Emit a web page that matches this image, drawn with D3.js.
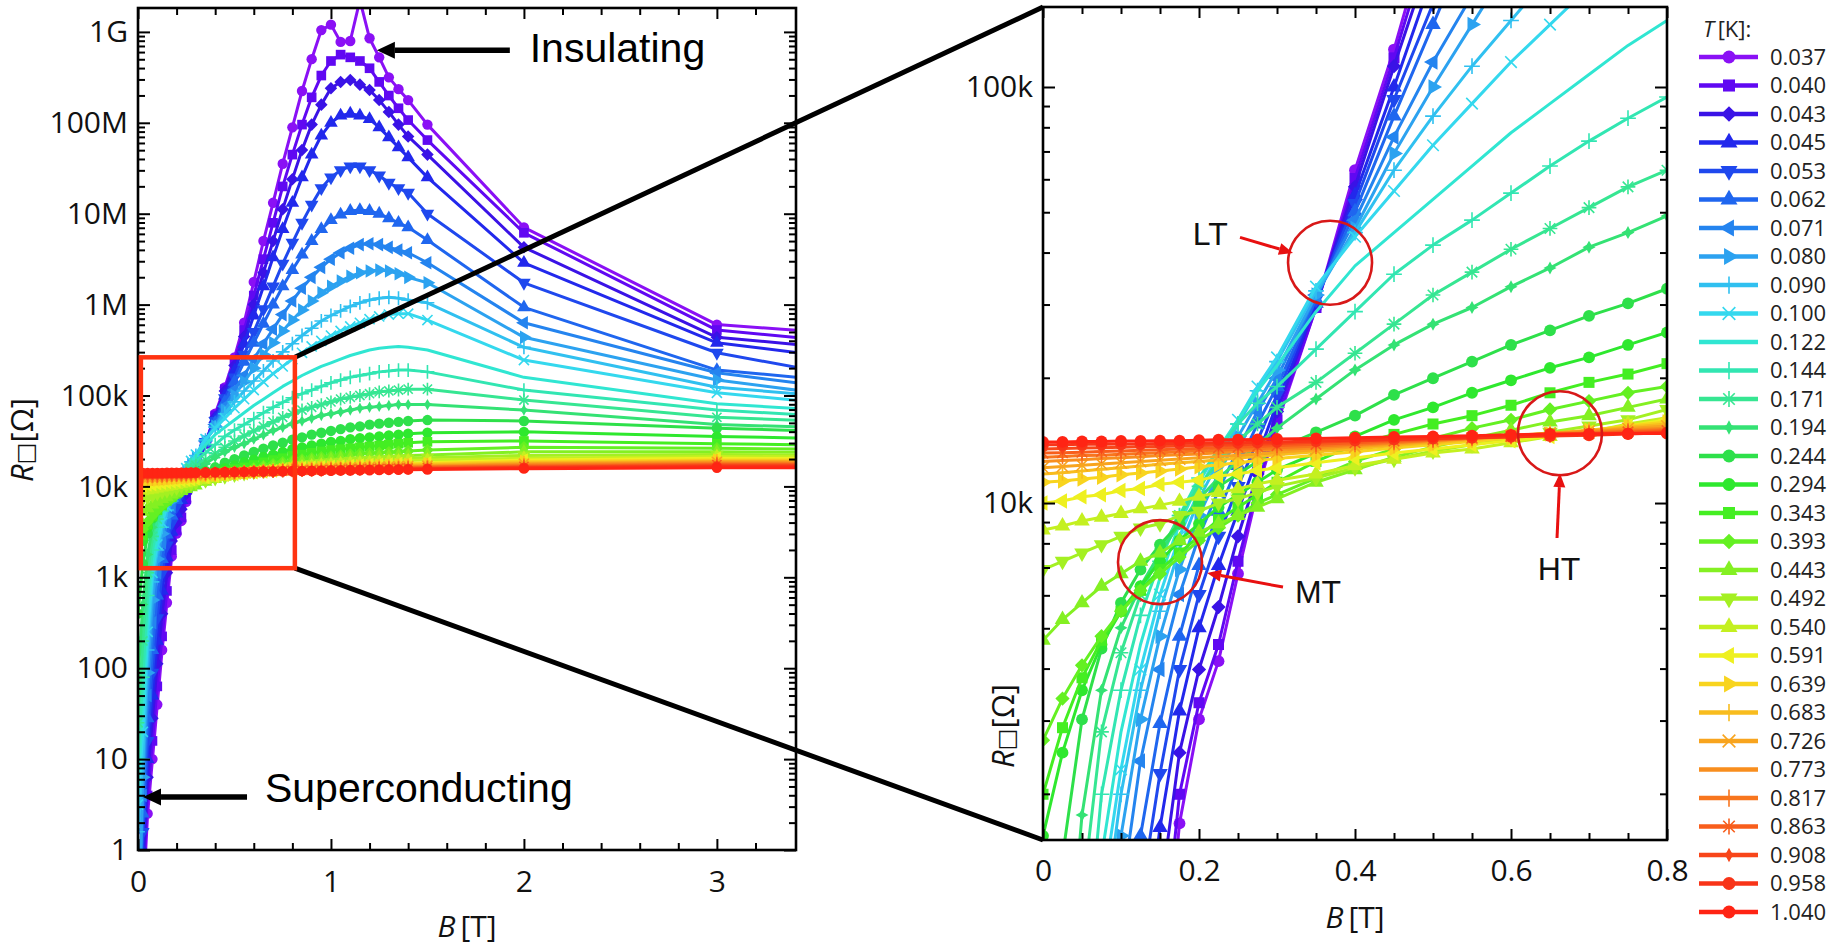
<!DOCTYPE html>
<html>
<head>
<meta charset="utf-8">
<title>Sheet resistance versus magnetic field</title>
<script src="https://cdn.jsdelivr.net/npm/d3@7"></script>
<style>
  html, body { margin: 0; padding: 0; background: #ffffff; }
  svg { display: block; }
</style>
</head>
<body>
<script>
// Magnetic field values at which every isotherm is sampled [T]
const fieldB = [0, 0.025, 0.05, 0.075, 0.1, 0.125, 0.15, 0.175, 0.2, 0.225,
  0.25, 0.275, 0.3, 0.35, 0.4, 0.45, 0.5, 0.55, 0.6, 0.65,
  0.7, 0.75, 0.8, 0.85, 0.9, 0.95, 1.0, 1.05, 1.1, 1.15,
  1.2, 1.25, 1.3, 1.35, 1.4, 1.5, 2, 3, 4];

// Temperatures of the isotherms [K]
const temperaturesK = ["0.037", "0.040", "0.043", "0.045", "0.053", "0.062", "0.071", "0.080",
  "0.090", "0.100", "0.122", "0.144", "0.171", "0.194", "0.244", "0.294", "0.343", "0.393",
  "0.443", "0.492", "0.540", "0.591", "0.639", "0.683", "0.726", "0.773", "0.817", "0.863",
  "0.908", "0.958", "1.040"];

// log10(R_sq / Ohm) for each isotherm, one value per entry of fieldB
const logR_0037 = [-1, -0.6, 0.4, 1.0, 1.6, 2.2, 2.72, 3.23, 3.48, 3.62, 3.83, 4.03, 4.19, 4.47, 4.8, 5.09, 5.42, 5.8, 6.25, 6.7, 7.12, 7.55, 7.95, 8.35, 8.7, 9.02, 9.08, 8.89, 8.9, 9.35, 8.93, 8.72, 8.5, 8.37, 8.25, 7.98, 6.85, 5.78, 5.63];
const logR_0040 = [-1, -0.4, 0.6, 1.2, 1.8, 2.35, 2.85, 3.3, 3.52, 3.66, 3.86, 4.04, 4.2, 4.47, 4.78, 5.07, 5.38, 5.72, 6.1, 6.5, 6.9, 7.3, 7.65, 7.98, 8.28, 8.52, 8.68, 8.75, 8.72, 8.68, 8.6, 8.45, 8.3, 8.16, 8.03, 7.81, 6.79, 5.72, 5.52];
const logR_0043 = [-1, -0.2, 0.8, 1.45, 2.05, 2.6, 3.05, 3.4, 3.6, 3.75, 3.92, 4.07, 4.22, 4.48, 4.76, 5.05, 5.33, 5.65, 6.0, 6.35, 6.7, 7.05, 7.38, 7.7, 7.98, 8.2, 8.38, 8.45, 8.47, 8.42, 8.36, 8.25, 8.12, 7.98, 7.85, 7.65, 6.63, 5.64, 5.45];
const logR_0045 = [-1, 0.0, 1.0, 1.7, 2.3, 2.85, 3.22, 3.5, 3.7, 3.85, 3.98, 4.11, 4.24, 4.48, 4.74, 5.0, 5.27, 5.57, 5.88, 6.2, 6.52, 6.83, 7.12, 7.4, 7.65, 7.86, 8.0, 8.08, 8.1, 8.08, 8.04, 7.95, 7.84, 7.73, 7.62, 7.4, 6.46, 5.58, 5.32];
const logR_0053 = [-1, 0.2, 1.2, 1.95, 2.55, 3.05, 3.35, 3.6, 3.78, 3.92, 4.04, 4.15, 4.26, 4.49, 4.72, 4.97, 5.2, 5.45, 5.7, 5.95, 6.2, 6.45, 6.68, 6.9, 7.1, 7.28, 7.4, 7.48, 7.52, 7.52, 7.48, 7.42, 7.34, 7.28, 7.23, 7.0, 6.24, 5.47, 5.08];
const logR_0062 = [-1, 0.4, 1.45, 2.2, 2.8, 3.2, 3.47, 3.68, 3.85, 3.98, 4.09, 4.19, 4.28, 4.49, 4.7, 4.93, 5.15, 5.37, 5.58, 5.79, 6.0, 6.2, 6.38, 6.55, 6.7, 6.83, 6.93, 6.99, 7.03, 7.04, 7.03, 7.0, 6.95, 6.9, 6.85, 6.71, 5.97, 5.28, 5.09];
const logR_0071 = [-1, 0.6, 1.7, 2.5, 3.05, 3.38, 3.6, 3.78, 3.92, 4.03, 4.13, 4.22, 4.3, 4.5, 4.68, 4.88, 5.06, 5.22, 5.4, 5.57, 5.73, 5.89, 6.04, 6.18, 6.3, 6.41, 6.5, 6.57, 6.62, 6.66, 6.67, 6.66, 6.63, 6.6, 6.57, 6.46, 5.8, 5.25, 4.98];
const logR_0080 = [-1, 0.8, 1.95, 2.75, 3.2, 3.48, 3.68, 3.84, 3.97, 4.07, 4.16, 4.24, 4.32, 4.5, 4.66, 4.84, 5.0, 5.15, 5.3, 5.45, 5.58, 5.71, 5.83, 5.94, 6.04, 6.13, 6.2, 6.26, 6.31, 6.35, 6.37, 6.38, 6.37, 6.34, 6.3, 6.24, 5.64, 5.17, 4.9];
const logR_0090 = [0.2, 1.0, 2.2, 2.95, 3.3, 3.55, 3.74, 3.89, 4.01, 4.1, 4.19, 4.27, 4.34, 4.51, 4.65, 4.8, 4.93, 5.05, 5.16, 5.27, 5.38, 5.48, 5.57, 5.66, 5.74, 5.82, 5.88, 5.93, 5.98, 6.02, 6.05, 6.07, 6.08, 6.07, 6.05, 6.02, 5.53, 5.09, 4.92];
const logR_0100 = [0.5, 1.3, 2.4, 3.05, 3.36, 3.6, 3.78, 3.92, 4.03, 4.12, 4.2, 4.28, 4.35, 4.52, 4.64, 4.75, 4.86, 4.96, 5.06, 5.15, 5.24, 5.32, 5.4, 5.47, 5.54, 5.6, 5.66, 5.71, 5.76, 5.8, 5.84, 5.87, 5.89, 5.9, 5.9, 5.83, 5.39, 5.03, 4.83];
const logR_0122 = [0.7, 1.6, 2.6, 3.15, 3.45, 3.66, 3.82, 3.95, 4.05, 4.13, 4.2, 4.27, 4.33, 4.46, 4.57, 4.65, 4.73, 4.81, 4.89, 4.96, 5.03, 5.1, 5.16, 5.22, 5.27, 5.32, 5.36, 5.4, 5.44, 5.47, 5.5, 5.52, 5.53, 5.54, 5.53, 5.5, 5.2, 4.91, 4.78];
const logR_0144 = [1.0, 1.9, 2.8, 3.3, 3.55, 3.73, 3.86, 3.97, 4.06, 4.13, 4.19, 4.24, 4.28, 4.37, 4.46, 4.55, 4.62, 4.68, 4.745, 4.81, 4.87, 4.925, 4.976, 5.02, 5.06, 5.1, 5.14, 5.17, 5.2, 5.22, 5.24, 5.26, 5.27, 5.28, 5.28, 5.26, 5.06, 4.84, 4.72];
const logR_0171 = [1.4, 2.3, 3.05, 3.45, 3.64, 3.78, 3.88, 3.97, 4.04, 4.1, 4.15, 4.19, 4.23, 4.29, 4.36, 4.43, 4.5, 4.555, 4.61, 4.66, 4.71, 4.76, 4.8, 4.84, 4.87, 4.9, 4.93, 4.96, 4.98, 5.0, 5.02, 5.04, 5.05, 5.06, 5.07, 5.07, 4.95, 4.76, 4.68];
const logR_0194 = [1.9, 2.7, 3.25, 3.55, 3.7, 3.8, 3.88, 3.95, 4.01, 4.06, 4.1, 4.14, 4.18, 4.25, 4.32, 4.38, 4.43, 4.47, 4.52, 4.565, 4.615, 4.65, 4.69, 4.72, 4.75, 4.78, 4.8, 4.82, 4.84, 4.86, 4.87, 4.88, 4.89, 4.9, 4.9, 4.9, 4.84, 4.68, 4.62];
const logR_0244 = [2.6, 3.15, 3.48, 3.65, 3.76, 3.84, 3.9, 3.95, 4.0, 4.04, 4.07, 4.1, 4.13, 4.17, 4.21, 4.26, 4.3, 4.34, 4.38, 4.415, 4.45, 4.48, 4.515, 4.54, 4.57, 4.59, 4.61, 4.63, 4.65, 4.66, 4.68, 4.69, 4.7, 4.71, 4.72, 4.73, 4.72, 4.64, 4.58];
const logR_0294 = [3.2, 3.4, 3.55, 3.66, 3.74, 3.8, 3.86, 3.91, 3.95, 3.99, 4.02, 4.05, 4.08, 4.12, 4.16, 4.2, 4.23, 4.265, 4.295, 4.325, 4.35, 4.38, 4.41, 4.43, 4.45, 4.47, 4.49, 4.5, 4.52, 4.53, 4.54, 4.55, 4.56, 4.57, 4.58, 4.59, 4.6, 4.55, 4.51];
const logR_0343 = [3.3, 3.46, 3.58, 3.67, 3.74, 3.79, 3.84, 3.88, 3.92, 3.96, 3.99, 4.02, 4.05, 4.1, 4.14, 4.165, 4.19, 4.21, 4.235, 4.265, 4.29, 4.31, 4.335, 4.35, 4.37, 4.385, 4.4, 4.41, 4.42, 4.43, 4.44, 4.45, 4.46, 4.47, 4.48, 4.49, 4.5, 4.47, 4.44];
const logR_0393 = [3.43, 3.53, 3.61, 3.68, 3.74, 3.79, 3.83, 3.87, 3.91, 3.94, 3.97, 4.0, 4.02, 4.06, 4.1, 4.13, 4.155, 4.18, 4.2, 4.225, 4.245, 4.265, 4.28, 4.295, 4.31, 4.32, 4.33, 4.34, 4.35, 4.36, 4.365, 4.37, 4.375, 4.38, 4.39, 4.4, 4.43, 4.42, 4.4];
const logR_0443 = [3.67, 3.72, 3.76, 3.8, 3.83, 3.86, 3.88, 3.91, 3.93, 3.95, 3.97, 3.99, 4.01, 4.05, 4.08, 4.11, 4.135, 4.155, 4.175, 4.195, 4.21, 4.23, 4.25, 4.265, 4.275, 4.285, 4.295, 4.305, 4.31, 4.315, 4.32, 4.325, 4.33, 4.335, 4.34, 4.345, 4.38, 4.38, 4.37];
const logR_0492 = [3.84, 3.86, 3.88, 3.9, 3.92, 3.94, 3.95, 3.97, 3.98, 4.0, 4.01, 4.025, 4.04, 4.06, 4.085, 4.105, 4.125, 4.14, 4.155, 4.17, 4.185, 4.2, 4.225, 4.235, 4.245, 4.255, 4.265, 4.27, 4.28, 4.285, 4.29, 4.295, 4.3, 4.305, 4.31, 4.315, 4.34, 4.35, 4.34];
const logR_0540 = [3.935, 3.945, 3.957, 3.966, 3.975, 3.986, 3.995, 4.004, 4.016, 4.025, 4.034, 4.046, 4.055, 4.07, 4.09, 4.105, 4.12, 4.13, 4.145, 4.16, 4.17, 4.19, 4.205, 4.215, 4.225, 4.234, 4.24, 4.25, 4.255, 4.26, 4.265, 4.27, 4.275, 4.28, 4.285, 4.29, 4.31, 4.33, 4.32];
const logR_0591 = [4.0, 4.005, 4.015, 4.02, 4.03, 4.035, 4.045, 4.05, 4.055, 4.065, 4.07, 4.078, 4.085, 4.097, 4.108, 4.12, 4.13, 4.14, 4.15, 4.16, 4.17, 4.185, 4.2, 4.205, 4.21, 4.215, 4.22, 4.225, 4.23, 4.235, 4.24, 4.243, 4.247, 4.25, 4.255, 4.26, 4.29, 4.31, 4.3];
const logR_0639 = [4.05, 4.053, 4.058, 4.062, 4.068, 4.072, 4.077, 4.082, 4.087, 4.092, 4.097, 4.102, 4.107, 4.115, 4.123, 4.132, 4.14, 4.148, 4.157, 4.166, 4.175, 4.185, 4.195, 4.2, 4.205, 4.21, 4.214, 4.218, 4.222, 4.226, 4.23, 4.234, 4.238, 4.241, 4.244, 4.25, 4.275, 4.29, 4.29];
const logR_0683 = [4.07, 4.073, 4.077, 4.081, 4.085, 4.089, 4.093, 4.097, 4.1, 4.104, 4.108, 4.112, 4.116, 4.123, 4.13, 4.138, 4.145, 4.152, 4.16, 4.168, 4.175, 4.182, 4.19, 4.194, 4.198, 4.202, 4.206, 4.21, 4.213, 4.216, 4.22, 4.223, 4.226, 4.229, 4.232, 4.237, 4.26, 4.28, 4.28];
const logR_0726 = [4.085, 4.088, 4.091, 4.094, 4.097, 4.1, 4.103, 4.106, 4.109, 4.112, 4.115, 4.118, 4.122, 4.128, 4.135, 4.141, 4.148, 4.155, 4.162, 4.168, 4.173, 4.179, 4.185, 4.189, 4.192, 4.196, 4.2, 4.203, 4.206, 4.209, 4.212, 4.215, 4.218, 4.221, 4.224, 4.228, 4.25, 4.27, 4.27];
const logR_0773 = [4.1, 4.102, 4.104, 4.107, 4.109, 4.111, 4.114, 4.116, 4.118, 4.121, 4.123, 4.126, 4.128, 4.133, 4.138, 4.144, 4.15, 4.156, 4.162, 4.167, 4.172, 4.176, 4.18, 4.184, 4.187, 4.19, 4.193, 4.196, 4.199, 4.202, 4.205, 4.208, 4.21, 4.212, 4.215, 4.219, 4.24, 4.26, 4.26];
const logR_0817 = [4.11, 4.112, 4.114, 4.115, 4.117, 4.119, 4.121, 4.123, 4.125, 4.127, 4.129, 4.131, 4.133, 4.137, 4.141, 4.146, 4.151, 4.156, 4.16, 4.164, 4.169, 4.173, 4.177, 4.18, 4.183, 4.186, 4.189, 4.192, 4.195, 4.197, 4.2, 4.202, 4.205, 4.207, 4.209, 4.213, 4.23, 4.25, 4.25];
const logR_0863 = [4.12, 4.121, 4.122, 4.124, 4.125, 4.127, 4.128, 4.13, 4.131, 4.133, 4.134, 4.136, 4.138, 4.141, 4.145, 4.149, 4.153, 4.157, 4.16, 4.164, 4.167, 4.171, 4.174, 4.177, 4.18, 4.182, 4.185, 4.187, 4.19, 4.192, 4.195, 4.197, 4.199, 4.201, 4.203, 4.207, 4.22, 4.24, 4.24];
const logR_0908 = [4.13, 4.131, 4.132, 4.133, 4.134, 4.135, 4.136, 4.137, 4.138, 4.139, 4.14, 4.141, 4.143, 4.146, 4.149, 4.152, 4.155, 4.158, 4.161, 4.164, 4.166, 4.168, 4.171, 4.173, 4.175, 4.177, 4.179, 4.181, 4.183, 4.185, 4.187, 4.189, 4.191, 4.193, 4.195, 4.198, 4.21, 4.23, 4.23];
const logR_0958 = [4.14, 4.14, 4.141, 4.141, 4.142, 4.142, 4.143, 4.143, 4.144, 4.145, 4.145, 4.146, 4.147, 4.149, 4.151, 4.153, 4.155, 4.157, 4.159, 4.161, 4.163, 4.166, 4.169, 4.171, 4.173, 4.175, 4.177, 4.179, 4.181, 4.183, 4.184, 4.186, 4.188, 4.19, 4.191, 4.194, 4.205, 4.22, 4.22];
const logR_1040 = [4.147, 4.147, 4.148, 4.148, 4.149, 4.149, 4.15, 4.15, 4.151, 4.152, 4.152, 4.153, 4.154, 4.155, 4.157, 4.159, 4.16, 4.162, 4.164, 4.166, 4.166, 4.167, 4.167, 4.168, 4.169, 4.17, 4.172, 4.173, 4.175, 4.176, 4.178, 4.179, 4.181, 4.182, 4.184, 4.186, 4.195, 4.205, 4.205];

const seriesLogR = [logR_0037, logR_0040, logR_0043, logR_0045, logR_0053, logR_0062, logR_0071,
  logR_0080, logR_0090, logR_0100, logR_0122, logR_0144, logR_0171, logR_0194, logR_0244,
  logR_0294, logR_0343, logR_0393, logR_0443, logR_0492, logR_0540, logR_0591, logR_0639,
  logR_0683, logR_0726, logR_0773, logR_0817, logR_0863, logR_0908, logR_0958, logR_1040];

// Line colours and plot markers, one per isotherm
const seriesColors = ["#8a10f5", "#6008f2", "#3a12e6", "#2228ec", "#1f48ee", "#1f66ef", "#2484ef",
  "#2ca2f0", "#30c0f0", "#34d8ee", "#30e6d2", "#32e6b2", "#36e692", "#34e274", "#2ee04a",
  "#2ee82e", "#44ee22", "#64f022", "#84f022", "#a4f022", "#c4f020", "#eef020", "#f8d41e",
  "#f8bc1e", "#f8a41e", "#f88e1e", "#f8761e", "#f85e1c", "#f8461a", "#f83418", "#ff2414"];
const markerKinds = ["circle", "square", "diamond", "triUp", "triDown", "triUp", "triLeft", "triRight",
  "plus", "times", "none", "plus", "asterisk", "star4", "circle", "circle", "square", "diamond",
  "triUp", "triDown", "triUp", "triLeft", "triRight", "plus", "times", "none", "plus", "asterisk",
  "star4", "circle", "circle"];

// Axis ticks
const leftDecades = [1, 10, 100, 1e3, 1e4, 1e5, 1e6, 1e7, 1e8, 1e9];
const leftDecadeLabels = ["1", "10", "100", "1k", "10k", "100k", "1M", "10M", "100M", "1G"];
const leftFieldTicks = [0, 1, 2, 3];
const rightDecades = [1e4, 1e5];
const rightDecadeLabels = ["10k", "100k"];
const rightFieldTicks = [0, 0.2, 0.4, 0.6, 0.8];

// Zoom window of the overview (B in T, R in Ohm) and annotations
const zoomWindowB = [0.015, 0.813];
const zoomWindowR = [1260, 263000];
const crossingMarks = [
  { name: "LT", circle: [0.368, 37800], arrowFrom: [0.2526, 43500], arrowTo: [0.3205, 39900], label: [0.192, 41700], anchor: "start" },
  { name: "MT", circle: [0.150, 7210], arrowFrom: [0.3077, 6280], arrowTo: [0.2103, 6790], label: [0.323, 5750], anchor: "start" },
  { name: "HT", circle: [0.6628, 14720], arrowFrom: [0.659, 8240], arrowTo: [0.6628, 11800], label: [0.6615, 6530], anchor: "middle" }
];
const regimeMarks = [
  { name: "Insulating", tail: [1.927, 6.3e8], tip: [1.238, 6.3e8], label: [2.03, 4.7e8] },
  { name: "Superconducting", tail: [0.565, 3.83], tip: [0.026, 3.83], label: [0.658, 3.37] }
];

const series = temperaturesK.map((t, i) => ({
  t, color: seriesColors[i], kind: markerKinds[i],
  pts: fieldB.map((b, j) => ({ b, r: Math.pow(10, seriesLogR[i][j]) }))
}));

const W = 1829, H = 949;
const svg = d3.select("body").append("svg").attr("width", W).attr("height", H);
svg.append("rect").attr("width", W).attr("height", H).attr("fill", "#fff");
const defs = svg.append("defs");

const TICK_FONT = "'Open Sans', 'DejaVu Sans', sans-serif";
const NOTE_FONT = "'Liberation Sans', Arial, sans-serif";

function markerPath(kind, k) {
  const sym = (type, size) => d3.symbol(type, size * k * k)();
  const r = 6.2 * k;
  switch (kind) {
    case "circle": return sym(d3.symbolCircle, 100);
    case "square": return sym(d3.symbolSquare, 110);
    case "diamond": { const q = 6.8 * k; return `M0,${-q}L${q},0L0,${q}L${-q},0Z`; }
    case "triUp": case "triDown": case "triLeft": case "triRight": return sym(d3.symbolTriangle, 95);
    case "plus": { const q = 7.5 * k; return `M${-q},0H${q}M0,${-q}V${q}`; }
    case "times": { const q = 5.5 * k; return `M${-q},${-q}L${q},${q}M${-q},${q}L${q},${-q}`; }
    case "asterisk": { const q = 7 * k, p = 5 * k; return `M${-q},0H${q}M0,${-q}V${q}M${-p},${-p}L${p},${p}M${-p},${p}L${p},${-p}`; }
    case "star4": { const q = 2.2 * k; return `M0,${-r}L${q},${-q}L${r},0L${q},${q}L0,${r}L${-q},${q}L${-r},0L${-q},${-q}Z`; }
  }
  return null;
}
const markerRotation = { triDown: 180, triLeft: -90, triRight: 90 };
const strokeMarkers = new Set(["plus", "times", "asterisk"]);

function drawMarker(g, kind, color, cx, cy, k) {
  const d = markerPath(kind, k);
  if (!d) return;
  const rot = markerRotation[kind] || 0;
  const p = g.append("path").attr("d", d)
    .attr("transform", `translate(${cx},${cy})` + (rot ? ` rotate(${rot})` : ""));
  if (strokeMarkers.has(kind)) p.attr("fill", "none").attr("stroke", color).attr("stroke-width", 1.6);
  else p.attr("fill", color);
}

function drawPanel(id, x, y, opt) {
  const [x0, x1] = x.range();
  const [yb, yt] = y.range();
  defs.append("clipPath").attr("id", id).append("rect")
    .attr("x", x0).attr("y", yt).attr("width", x1 - x0).attr("height", yb - yt);
  const plot = svg.append("g").attr("clip-path", `url(#${id})`);
  const line = d3.line().x(d => x(d.b)).y(d => y(d.r));
  const [bmin, bmax] = x.domain();
  series.forEach(s => {
    const g = plot.append("g");
    g.append("path").datum(s.pts).attr("d", line)
      .attr("fill", "none").attr("stroke", s.color).attr("stroke-width", opt.lineW)
      .attr("stroke-linejoin", "round");
    s.pts.filter(p => p.b >= bmin - 0.05 && p.b <= bmax + 0.05)
      .forEach(p => drawMarker(g, s.kind, s.color, x(p.b), y(p.r), opt.mk));
  });

  // axes: ticks point inward on all four sides
  const styleAxis = g => {
    g.select(".domain").remove();
    g.selectAll(".tick line").attr("stroke", "#000").attr("stroke-width", 2);
    g.attr("font-family", TICK_FONT).attr("font-size", 30);
    g.selectAll(".tick text").attr("fill", "#111");
  };
  const xMajor = opt.xTicks, xMinor = opt.xMinor;
  svg.append("g").attr("transform", `translate(0,${yb})`)
    .call(d3.axisBottom(x).tickValues(xMajor).tickFormat(opt.xFmt).tickSizeInner(-11).tickSizeOuter(0).tickPadding(opt.xPad)).call(styleAxis);
  svg.append("g").attr("transform", `translate(0,${yb})`)
    .call(d3.axisBottom(x).tickValues(xMinor).tickFormat("").tickSizeInner(-7).tickSizeOuter(0)).call(styleAxis);
  svg.append("g").attr("transform", `translate(0,${yt})`)
    .call(d3.axisTop(x).tickValues(xMajor).tickFormat("").tickSizeInner(-11).tickSizeOuter(0)).call(styleAxis);
  svg.append("g").attr("transform", `translate(0,${yt})`)
    .call(d3.axisTop(x).tickValues(xMinor).tickFormat("").tickSizeInner(-7).tickSizeOuter(0)).call(styleAxis);

  const yMinor = [];
  const [rlo, rhi] = y.domain();
  for (let e = Math.floor(Math.log10(rlo)); e <= Math.ceil(Math.log10(rhi)); e++) {
    for (let m = 2; m <= 9; m++) { const v = m * Math.pow(10, e); if (v > rlo && v < rhi) yMinor.push(v); }
  }
  svg.append("g").attr("transform", `translate(${x0},0)`)
    .call(d3.axisLeft(y).tickValues(opt.yTicks).tickFormat((d, i) => opt.yLabels[i]).tickSizeInner(-12).tickSizeOuter(0).tickPadding(10)).call(styleAxis);
  svg.append("g").attr("transform", `translate(${x0},0)`)
    .call(d3.axisLeft(y).tickValues(yMinor).tickFormat("").tickSizeInner(-7).tickSizeOuter(0)).call(styleAxis);
  svg.append("g").attr("transform", `translate(${x1},0)`)
    .call(d3.axisRight(y).tickValues(opt.yTicks).tickFormat("").tickSizeInner(-12).tickSizeOuter(0)).call(styleAxis);
  svg.append("g").attr("transform", `translate(${x1},0)`)
    .call(d3.axisRight(y).tickValues(yMinor).tickFormat("").tickSizeInner(-7).tickSizeOuter(0)).call(styleAxis);

  svg.append("rect").attr("x", x0).attr("y", yt).attr("width", x1 - x0).attr("height", yb - yt)
    .attr("fill", "none").attr("stroke", "#000").attr("stroke-width", 2.6);

  // axis titles
  const bt = svg.append("text").attr("x", (x0 + x1) / 2).attr("y", opt.xTitleY)
    .attr("text-anchor", "middle").attr("font-family", TICK_FONT).attr("font-size", 30).attr("fill", "#111");
  bt.append("tspan").attr("font-style", "italic").text("B");
  bt.append("tspan").text("\u2009[T]");
  const rt = svg.append("text")
    .attr("transform", `translate(${opt.yTitleX},${opt.yTitleY}) rotate(-90)`)
    .attr("text-anchor", "middle").attr("font-family", TICK_FONT).attr("font-size", 31).attr("fill", "#111");
  rt.append("tspan").attr("font-style", "italic").text("R");
  rt.append("tspan").attr("font-family", "'DejaVu Sans', sans-serif").attr("font-size", 23).text("\u25A1");
  rt.append("tspan").text("[\u03A9]");
}

// overview panel
const xL = d3.scaleLinear().domain([0, 3.41]).range([138, 796]);
const yL = d3.scaleLog().domain([1, Math.pow(10, 9.263)]).range([850, 8]);
// zoomed panel
const xR = d3.scaleLinear().domain([0, 0.8]).range([1043, 1667]);
const yR = d3.scaleLog().domain([1549, 155700]).range([840, 7]);

drawPanel("clipL", xL, yL, {
  lineW: 3, mk: 0.92, xTicks: leftFieldTicks, xMinor: d3.range(1, 17).map(i => i * 0.2).filter(v => Math.abs(v - Math.round(v)) > 1e-6),
  xFmt: d3.format("d"), xPad: 21, yTicks: leftDecades, yLabels: leftDecadeLabels,
  xTitleY: 937, yTitleX: 33, yTitleY: 440
});
drawPanel("clipR", xR, yR, {
  lineW: 3, mk: 1.05, xTicks: rightFieldTicks, xMinor: d3.range(1, 16).map(i => i * 0.05).filter(v => Math.abs(v / 0.2 - Math.round(v / 0.2)) > 1e-6),
  xFmt: d => (d === 0 ? "0" : d3.format(".1f")(d)), xPad: 20, yTicks: rightDecades, yLabels: rightDecadeLabels,
  xTitleY: 928, yTitleX: 1014, yTitleY: 726
});

// zoom window on the overview and the connectors to the zoomed panel
const zx0 = xL(zoomWindowB[0]), zx1 = xL(zoomWindowB[1]);
const zyT = yL(zoomWindowR[1]), zyB = yL(zoomWindowR[0]);
svg.append("line").attr("x1", zx1).attr("y1", zyT).attr("x2", xR.range()[0]).attr("y2", yR.range()[1])
  .attr("stroke", "#000").attr("stroke-width", 5);
svg.append("line").attr("x1", zx1).attr("y1", zyB).attr("x2", xR.range()[0]).attr("y2", yR.range()[0])
  .attr("stroke", "#000").attr("stroke-width", 5);
svg.append("rect").attr("x", zx0).attr("y", zyT).attr("width", zx1 - zx0).attr("height", zyB - zyT)
  .attr("fill", "none").attr("stroke", "#ff3311").attr("stroke-width", 4.5);

// regime arrows on the overview
function arrow(x1, y1, x2, y2, color, w, headL, headW) {
  const a = Math.atan2(y2 - y1, x2 - x1);
  const bx = x2 - headL * Math.cos(a), by = y2 - headL * Math.sin(a);
  svg.append("line").attr("x1", x1).attr("y1", y1).attr("x2", bx).attr("y2", by)
    .attr("stroke", color).attr("stroke-width", w);
  const px = -Math.sin(a) * headW, py = Math.cos(a) * headW;
  svg.append("path").attr("d", `M${x2},${y2}L${bx + px},${by + py}L${bx - px},${by - py}Z`).attr("fill", color);
}
regimeMarks.forEach(m => {
  arrow(xL(m.tail[0]), yL(m.tail[1]), xL(m.tip[0]), yL(m.tip[1]), "#000", 5.5, 18, 8.5);
  svg.append("text").attr("x", xL(m.label[0])).attr("y", yL(m.label[1]))
    .attr("font-family", NOTE_FONT).attr("font-size", 41).attr("fill", "#000").text(m.name);
});

// crossing regions in the zoomed panel
crossingMarks.forEach(m => {
  svg.append("circle").attr("cx", xR(m.circle[0])).attr("cy", yR(m.circle[1])).attr("r", 42)
    .attr("fill", "none").attr("stroke", "#d81818").attr("stroke-width", 2.6);
  arrow(xR(m.arrowFrom[0]), yR(m.arrowFrom[1]), xR(m.arrowTo[0]), yR(m.arrowTo[1]), "#e81010", 3, 14, 6);
  svg.append("text").attr("x", xR(m.label[0])).attr("y", yR(m.label[1])).attr("text-anchor", m.anchor)
    .attr("font-family", NOTE_FONT).attr("font-size", 32).attr("fill", "#111").text(m.name);
});

// legend
const lg = svg.append("g").attr("font-family", TICK_FONT).attr("fill", "#222");
const lt = lg.append("text").attr("x", 1703).attr("y", 37).attr("font-size", 22);
lt.append("tspan").attr("font-style", "italic").text("T");
lt.append("tspan").text("\u2009[K]:");
series.forEach((s, i) => {
  const yy = 57 + i * 28.5;
  lg.append("line").attr("x1", 1699).attr("x2", 1758).attr("y1", yy).attr("y2", yy)
    .attr("stroke", s.color).attr("stroke-width", 4.5);
  drawMarker(lg, s.kind, s.color, 1729, yy, 1.15);
  lg.append("text").attr("x", 1770).attr("y", yy).attr("dy", "0.36em").attr("font-size", 22).text(s.t);
});
</script>
</body>
</html>
